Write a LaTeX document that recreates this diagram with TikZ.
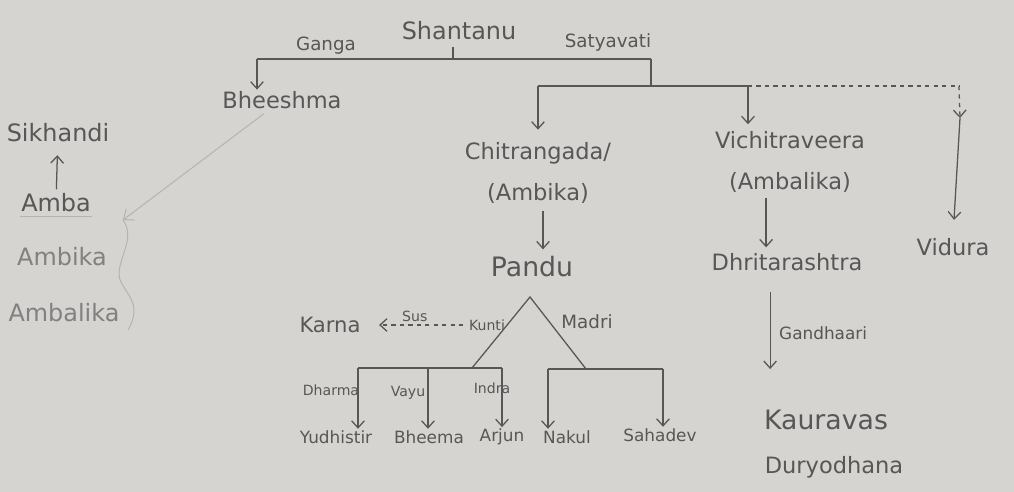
\documentclass[tikz,border=0pt]{standalone}
\usepackage{fontspec}
\setmainfont{DejaVu Sans}
\usetikzlibrary{positioning,arrows.meta}
\definecolor{paper}{RGB}{214,212,209}
\definecolor{ink}{RGB}{88,86,86}
\begin{document}
\begin{tikzpicture}[x=0.025cm,y=-0.025cm,
    every node/.style={text=ink,inner sep=1pt},
    elder/.style={font=\fontsize{16}{29}\selectfont,align=center},
    big/.style={font=\fontsize{19}{21}\selectfont},
    wife/.style={font=\fontsize{13}{15}\selectfont},
    son/.style={font=\fontsize{12}{14}\selectfont},
    deva/.style={font=\fontsize{10}{12}\selectfont},
    sister/.style={font=\fontsize{17}{19}\selectfont,text=ink!75},
    bond/.style={draw=ink,line width=0.9pt},
    descent/.style={bond,-{Straight Barb[length=5pt,width=9pt]}},
    faint/.style={draw=ink!45,line width=0.7pt}]
\fill[paper] (0,0) rectangle (1014,492);
\useasboundingbox (0,0) rectangle (1014,492);

\node[elder,font=\fontsize{17}{19}\selectfont] (shantanu) at (459,31) {Shantanu};
\node[wife] (ganga) at (326,46) {Ganga};
\node[wife] (satyavati) at (608,42) {Satyavati};
\coordinate (gj) at (257,59);
\coordinate (sh) at (453,59);
\coordinate (sj) at (651,59);
\draw[bond] (gj) -- (sj);
\draw[bond] (sh) -- +(0,-12);

\node[elder] (bheeshma) at (282,100) {Bheeshma};
\draw[descent] (gj) -- (gj |- bheeshma.north);

\coordinate (vj) at (651,86);
\coordinate (cj) at (538,86);
\coordinate (wj) at (748,86);
\coordinate (dj) at (959,86);
\coordinate (dv) at (960,118);
\draw[bond] (sj) -- (vj);
\draw[bond] (cj) -- (wj);
\draw[bond,dashed] (wj) -- (dj);
\draw[descent,dashed] (dj) -- (dv);

\node[elder] (chitrangada) at (538,173) {Chitrangada/\\(Ambika)};
\node[elder,big] (pandu) at (532,267) {Pandu};
\draw[descent,shorten >=8pt] (cj) -- (cj |- chitrangada.north);
\draw[descent,shorten <=4pt,shorten >=4pt] (chitrangada.south -| 543,0) -- (pandu.north -| 543,0);

\node[elder] (vichitraveera) at (790,162) {Vichitraveera\\(Ambalika)};
\node[elder] (dhritarashtra) at (787,262) {Dhritarashtra};
\node[elder] (vidura) at (953,247) {Vidura};
\draw[descent,shorten >=4pt] (wj) -- (wj |- vichitraveera.north);
\draw[descent,shorten <=3pt,shorten >=3pt] ([xshift=-17pt]vichitraveera.south) -- ([xshift=-17pt]vichitraveera.south |- dhritarashtra.north);
\draw[descent,shorten >=12pt] (dv) -- (vidura.north);

\node[elder,big] (kauravas) at (826,420) {Kauravas};
\node[elder] (duryodhana) at (834,467) {Duryodhana};
\draw[descent,shorten <=14pt,shorten >=28pt] ([xshift=-12pt]dhritarashtra.south) -- ([xshift=-12pt]dhritarashtra.south |- kauravas.north)
    node[son,anchor=west,pos=0.45,xshift=5pt] (gandhaari) {Gandhaari};

\coordinate (pj) at (530,297);
\coordinate (kj) at (472,368);
\coordinate (mj) at (586,369);
\draw[bond] (kj) -- (pj) -- (mj);
\node[elder,font=\fontsize{15}{17}\selectfont] (karna) at (330,325) {Karna};
\node[deva] (kunti) at (487,325) {Kunti};
\node[wife] (madri) at (587,322) {Madri};
\draw[descent,dashed,shorten <=3pt,shorten >=12pt] (kunti) -- (karna)
    node[deva,midway,above=1pt] (surya) {Sus};

\coordinate (k1) at (358,368);
\coordinate (k2) at (428,368);
\coordinate (k3) at (502,368);
\coordinate (m1) at (548,369);
\coordinate (m2) at (663,369);
\draw[bond] (k1) -- (k3);
\draw[bond] (m1) -- (m2);
\node[son] (yudhistir) at (336,437) {Yudhistir};
\node[son] (bheema) at (429,437) {Bheema};
\node[son] (arjun) at (502,437) {Arjun};
\node[son] (nakul) at (567,437) {Nakul};
\node[son] (sahadev) at (660,435) {Sahadev};
\node[deva] (dharma) at (331,390) {Dharma};
\node[deva] (vayu) at (408,393) {Vayu};
\node[deva] (indra) at (492,388) {Indra};
\draw[descent] (k1) -- (k1 |- yudhistir.north);
\draw[descent] (k2) -- (k2 |- bheema.north);
\draw[descent] (k3) -- (k3 |- arjun.north);
\draw[descent] (m1) -- (m1 |- nakul.north);
\draw[descent] (m2) -- (m2 |- sahadev.north);

\node[sister,text=ink] (sikhandi) at (58,133) {Sikhandi};
\node[sister,text=ink] (amba) at (56,203) {Amba};
\node[sister] (ambika) at (62,257) {Ambika};
\node[sister] (ambalika) at (64,313) {Ambalika};
\draw[descent,shorten <=2pt,shorten >=8pt] (amba) -- (sikhandi);
\draw[faint] ([yshift=-2pt]amba.south west) -- ([yshift=-2pt]amba.south east);
\coordinate (bj) at (123,220);
\draw[faint] (bj) .. controls (138,240) and (112,265) .. (121,282)
    .. controls (128,296) and (142,306) .. (128,330);
\draw[faint,-{Straight Barb[length=6pt,width=10pt]},shorten <=4pt] (bheeshma) -- (bj);
\end{tikzpicture}
\end{document}
